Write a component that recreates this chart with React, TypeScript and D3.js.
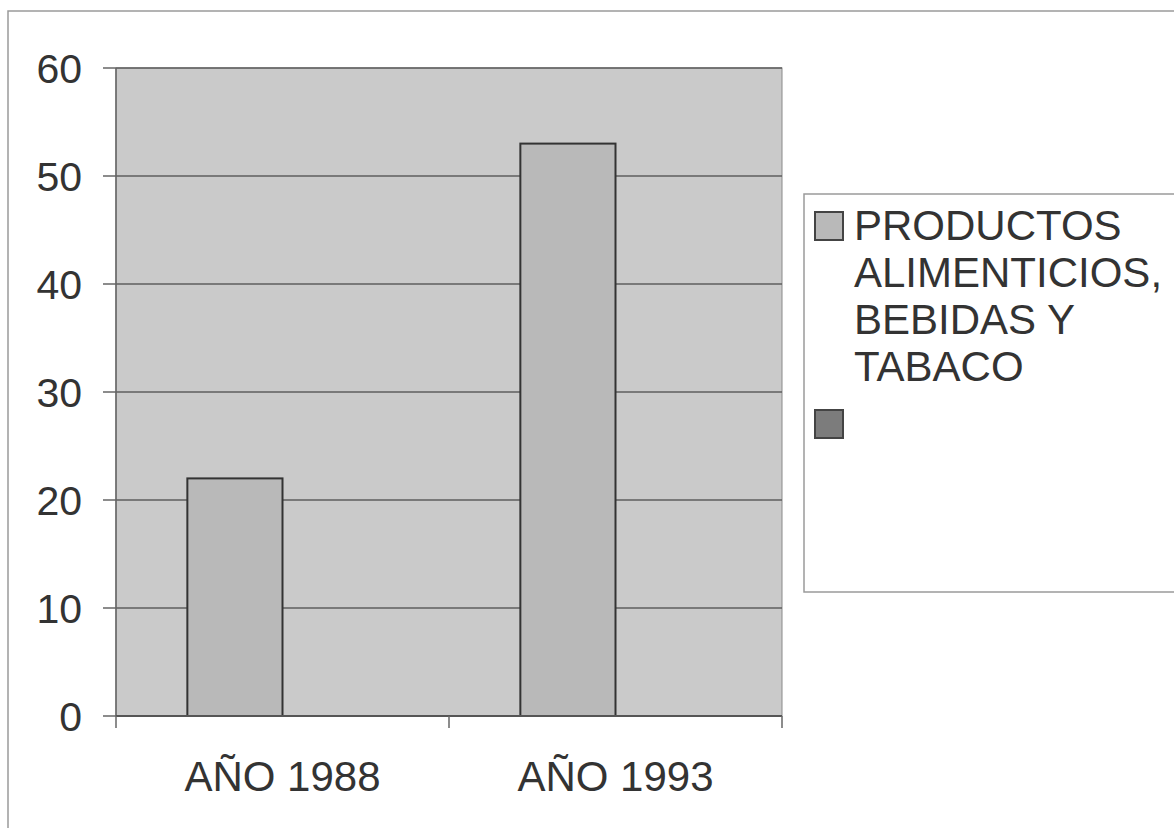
import React from "react";
import * as d3 from "d3";

const categories = ["AÑO 1988", "AÑO 1993"];
const seriesNames = ["PRODUCTOS ALIMENTICIOS, BEBIDAS Y TABACO", ""];
const seriesKeys = ["s1", "s2"];
const series1Values = [22, 53];
const series2Values: (number | null)[] = [null, null];
const yTicks = [0, 10, 20, 30, 40, 50, 60];
const legendLines = [["PRODUCTOS", "ALIMENTICIOS,", "BEBIDAS Y", "TABACO"], []];
const seriesFill = ["#b9b9b9", "#7c7c7c"];

const W = 1174;
const H = 828;
const plot = { left: 116, right: 782, top: 68, bottom: 716 };
const FONT = "'Liberation Sans', Arial, Helvetica, sans-serif";
const TEXT = "#333333";

export default function App() {
  const x = d3.scaleBand<string>().domain(categories).range([plot.left, plot.right]).paddingInner(0).paddingOuter(0);
  const xs = d3.scaleBand<string>().domain(seriesKeys).range([0, x.bandwidth()]).paddingInner(0).paddingOuter(0.75);
  const y = d3.scaleLinear().domain([0, 60]).range([plot.bottom, plot.top]);
  const allSeries = [series1Values, series2Values];
  const catTicks = [...categories.map((c) => x(c)!), plot.right];

  return (
    <svg width={W} height={H} style={{ position: "absolute", left: 0, top: 0, background: "#fff" }}>
      {/* outer chart border */}
      <path d={`M8,${H} L8,11 L${W},11`} fill="none" stroke="#9a9a9a" strokeWidth={1.5} />
      {/* plot area */}
      <rect x={plot.left} y={plot.top} width={plot.right - plot.left} height={plot.bottom - plot.top} fill="#cacaca" stroke="#8a8a8a" strokeWidth={1} />
      {/* gridlines */}
      {yTicks.map((t) => (
        <line key={"g" + t} x1={plot.left} x2={plot.right} y1={y(t)} y2={y(t)} stroke="#5e5e5e" strokeWidth={1.5} />
      ))}
      {/* bars */}
      {allSeries.map((vals, si) =>
        vals.map((v, ci) =>
          v == null ? null : (
            <rect
              key={`b${si}-${ci}`}
              x={x(categories[ci])! + xs(seriesKeys[si])!}
              y={y(v)}
              width={xs.bandwidth()}
              height={y(0) - y(v)}
              fill={seriesFill[si]}
              stroke="#333"
              strokeWidth={2}
            />
          )
        )
      )}
      {/* y axis */}
      <line x1={plot.left} x2={plot.left} y1={plot.top} y2={plot.bottom} stroke="#666" strokeWidth={1.5} />
      {yTicks.map((t) => (
        <g key={"t" + t}>
          <line x1={plot.left - 13} x2={plot.left} y1={y(t)} y2={y(t)} stroke="#666" strokeWidth={1.5} />
          <text x={82} y={y(t)} dy="0.36em" textAnchor="end" fontFamily={FONT} fontSize={41} fill={TEXT}>
            {t}
          </text>
        </g>
      ))}
      {/* x axis */}
      <line x1={plot.left} x2={plot.right} y1={plot.bottom} y2={plot.bottom} stroke="#555" strokeWidth={2} />
      {catTicks.map((cx, i) => (
        <line key={"xt" + i} x1={cx} x2={cx} y1={plot.bottom} y2={plot.bottom + 12} stroke="#666" strokeWidth={1.5} />
      ))}
      {categories.map((c) => (
        <text key={c} x={x(c)! + x.bandwidth() / 2} y={791} textAnchor="middle" fontFamily={FONT} fontSize={42} fill={TEXT}>
          {c}
        </text>
      ))}
      {/* legend */}
      <rect x={804} y={194} width={W} height={398} fill="#fff" stroke="#9a9a9a" strokeWidth={1.5} />
      {seriesNames.map((name, si) => {
        const sy = si === 0 ? 212 : 410;
        return (
          <g key={"l" + si}>
            <rect x={815} y={sy} width={28} height={28} fill={seriesFill[si]} stroke="#444" strokeWidth={2} />
            <text fontFamily={FONT} fontSize={42} fill={TEXT} aria-label={name}>
              {legendLines[si].map((ln, li) => (
                <tspan key={li} x={854} y={240 + li * 47}>
                  {ln}
                </tspan>
              ))}
            </text>
          </g>
        );
      })}
    </svg>
  );
}
